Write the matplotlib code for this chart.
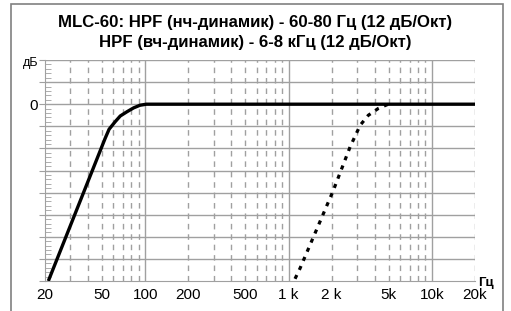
import matplotlib
matplotlib.use("Agg")
import matplotlib.pyplot as plt
from matplotlib.patches import Rectangle
from matplotlib.ticker import FixedLocator, NullFormatter

plt.rcParams['font.family'] = ['Liberation Sans', 'DejaVu Sans']

# woofer HPF curve (solid) and tweeter HPF curve (dotted), dB vs Hz
woofer_hz = [21.1, 52.5, 56, 61.6, 67, 74.4, 83, 92, 102, 20000]
woofer_db = [-24.0, -4.66, -3.4, -2.4, -1.6, -1.04, -0.5, -0.14, 0.0, 0.0]
tweeter_hz = [1110, 1202, 2054, 2688, 3163, 3606, 4228, 4960, 5400]
tweeter_db = [-23.7, -22.3, -11.7, -5.8, -2.85, -1.5, -0.58, 0.0, 0.0]

x_ticks = [20, 50, 100, 200, 500, 1000, 2000, 5000, 10000, 20000]
x_labels = ['20', '50', '100', '200', '500', '1 k', '2 k', '5k', '10k', '20k']
title_lines = ['MLC-60: HPF (нч-динамик) - 60-80 Гц (12 дБ/Окт)',
               'HPF (вч-динамик) - 6-8 кГц (12 дБ/Окт)']

grid_c = '#a0a0a0'

fig = plt.figure(figsize=(5.11, 3.11), dpi=100)
fig.patches.append(Rectangle((11 / 511, -0.1), 492 / 511, 1.1 - 4 / 311,
                             transform=fig.transFigure, fill=False,
                             edgecolor='#808080', linewidth=1.2))
ax = fig.add_axes([45 / 511, 30 / 311, 430 / 511, 221 / 311])
ax.set_xscale('log')
ax.set_xlim(20, 20000)
ax.set_ylim(-24, 6)

# grid
for v in [100, 1000, 10000]:
    ax.axvline(v, color=grid_c, lw=1.0, zorder=1)
minor = [m * 10 ** e for e in range(1, 5) for m in range(2, 10)
         if 20 < m * 10 ** e <= 20000]
for v in minor:
    ax.axvline(v, color=grid_c, lw=1.0, dashes=(4, 3.5), zorder=1)
for y in range(-21, 7, 3):
    ax.axhline(y, color=grid_c, lw=1.0, zorder=1)

ax.plot(woofer_hz, woofer_db, color='black', lw=2.4, solid_capstyle='butt', zorder=3)
ax.plot(tweeter_hz, tweeter_db, color='black', lw=2.3, dashes=(1.3, 1.8), zorder=3)

ax.xaxis.set_major_locator(FixedLocator(x_ticks))
ax.xaxis.set_minor_locator(FixedLocator([]))
ax.set_xticklabels(x_labels)
ax.tick_params(axis='x', length=0, pad=5, labelsize=11)

ax.set_yticks(list(range(-24, 7, 3)))
ax.set_yticklabels(['0' if y == 0 else '' for y in range(-24, 7, 3)])
ax.set_yticks([y / 10 for y in range(-240, 61, 6) if y % 30 != 0], minor=True)
ax.yaxis.set_minor_formatter(NullFormatter())
ax.tick_params(axis='y', which='major', length=4, color=grid_c, pad=1, labelsize=11)
ax.tick_params(axis='y', which='minor', direction='in', length=4, color=grid_c)

for s in ['right', 'top']:
    ax.spines[s].set_visible(False)
for s in ['left', 'bottom']:
    ax.spines[s].set_color(grid_c)

fig.text(38 / 511, 1 - 63 / 311, 'дБ', ha='right', va='center', fontsize=9)
fig.text(478 / 511, 1 - 283 / 311, 'Гц', ha='left', va='center',
         fontsize=9.5, fontweight='bold')

fig.text(0.5, 1 - 22 / 311, title_lines[0], ha='center', va='center',
         fontsize=12.1, fontweight='bold')
fig.text(0.5, 1 - 42 / 311, title_lines[1], ha='center', va='center',
         fontsize=12.1, fontweight='bold')

fig.savefig('out.png', dpi=100)
